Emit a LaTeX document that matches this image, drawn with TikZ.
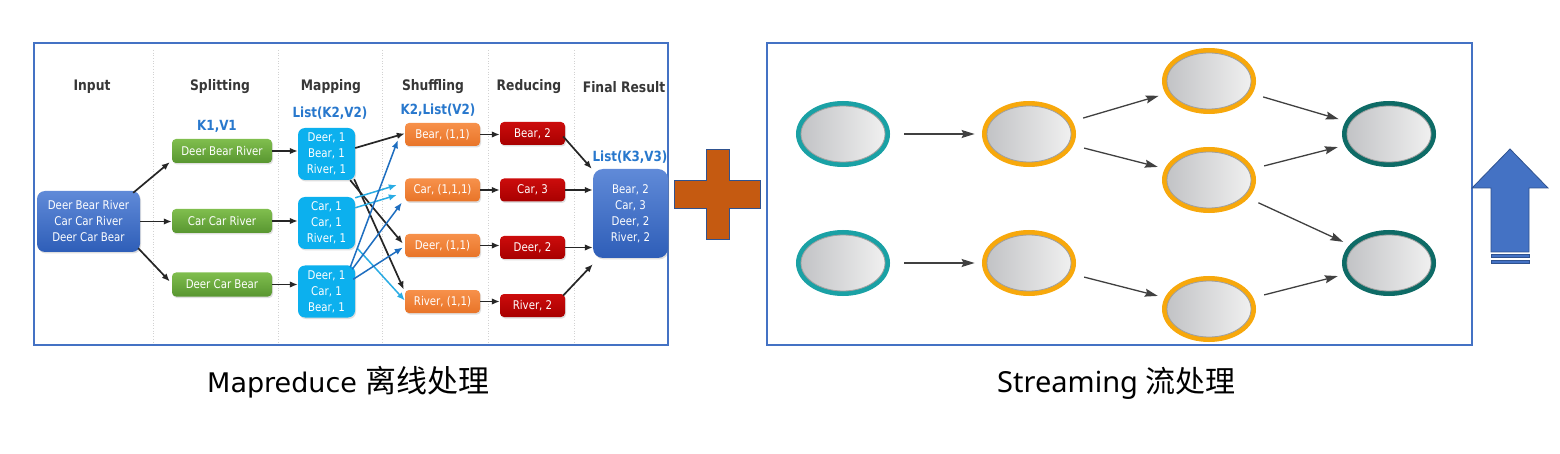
\documentclass[tikz,border=0pt]{standalone}
\usepackage{fontspec}
\setmainfont{Liberation Sans}
\newfontfamily\cjk{Noto Sans CJK SC}
\newfontfamily\dejavu{DejaVu Sans}
\newfontfamily\verd[FakeStretch=0.85]{DejaVu Sans}
\newfontfamily\notosans{Noto Sans}
\usetikzlibrary{shapes.geometric,arrows.meta,calc,shadows}
\definecolor{panelblue}{RGB}{68,114,196}
\definecolor{darkedge}{RGB}{47,82,143}
\definecolor{plusor}{RGB}{197,90,17}
\definecolor{hdrgray}{RGB}{55,55,55}
\definecolor{lblblue}{RGB}{40,120,205}
\definecolor{grtop}{RGB}{128,190,78}
\definecolor{grbot}{RGB}{88,150,48}
\definecolor{cyanb}{RGB}{12,176,238}
\definecolor{ortop}{RGB}{247,145,75}
\definecolor{orbot}{RGB}{232,116,40}
\definecolor{rdtop}{RGB}{204,12,12}
\definecolor{rdbot}{RGB}{168,0,0}
\definecolor{bltop}{RGB}{96,138,216}
\definecolor{blbot}{RGB}{46,94,184}
\definecolor{lbarr}{RGB}{41,172,228}
\definecolor{bdarr}{RGB}{30,110,192}
\definecolor{tealc}{RGB}{26,161,165}
\definecolor{orangec}{RGB}{247,168,12}
\definecolor{dtealc}{RGB}{14,107,102}
\definecolor{ellL}{RGB}{194,195,198}
\definecolor{ellR}{RGB}{240,240,240}
\definecolor{sarrc}{RGB}{64,64,64}
\begin{document}
\begin{tikzpicture}[x=1pt,y=-1pt,
  mrbox/.style={rounded corners=4pt, text=white, font=\verd\fontsize{12}{16}\selectfont, align=center, inner sep=0pt,
    drop shadow={opacity=0.25,shadow xshift=1pt,shadow yshift=-1.5pt}},
  gbox/.style={mrbox, top color=grtop, bottom color=grbot, minimum width=100, minimum height=24},
  inbox/.style={mrbox, rounded corners=8pt, top color=bltop, bottom color=blbot, minimum width=103, minimum height=61},
  cbox/.style={mrbox, rounded corners=7pt, fill=cyanb, minimum width=57, minimum height=52},
  obox/.style={mrbox, top color=ortop, bottom color=orbot, minimum width=75, minimum height=23},
  rbox/.style={mrbox, top color=rdtop, bottom color=rdbot, minimum width=65, minimum height=23},
  fbox/.style={mrbox, rounded corners=10pt, top color=bltop, bottom color=blbot, minimum width=75, minimum height=89},
  hdrtxt/.style={font=\verd\bfseries\fontsize{14.5}{16}\selectfont, text=hdrgray, inner sep=0pt},
  lbltxt/.style={font=\verd\bfseries\fontsize{14}{16}\selectfont, text=lblblue, inner sep=0pt},
  karr/.style={-{Latex[length=8pt,width=6.5pt]}, line width=1.7pt, draw=black!85},
  larr/.style={-{Latex[length=8pt,width=6.5pt]}, line width=1.5pt, draw=lbarr},
  barr/.style={-{Latex[length=8pt,width=6.5pt]}, line width=1.5pt, draw=bdarr},
  sepline/.style={draw=gray!35, dotted, line width=0.7pt},
  ellnode/.style={ellipse, minimum width=84, minimum height=56, inner sep=0pt, line width=0.8pt,
    left color=ellL, right color=ellR, draw=gray!75, preaction={draw=#1, line width=10pt}},
  sarr/.style={-{Stealth[length=13pt,width=8pt,inset=2pt]}, line width=1.3pt, draw=sarrc, shorten <=16pt, shorten >=12pt},
  captxt/.style={inner sep=0pt, anchor=base west}
]
\useasboundingbox[fill=white] (0,0) rectangle (1560,454);

% ---------- left panel ----------
\draw[panelblue, line width=1.2pt] (34,43) rectangle (668,345);
\foreach \xx in {153,278,382,488,574} \draw[sepline] (\xx,50) -- (\xx,344);

\node[hdrtxt] (hin) at (92,87) {Input};
\node[hdrtxt] (hsp) at (220,87) {Splitting};
\node[hdrtxt] (hma) at (331,87) {Mapping};
\node[hdrtxt] (hsh) at (433,87) {Shuffling};
\node[hdrtxt] (hre) at (529,87) {Reducing};
\node[hdrtxt] (hfi) at (624,87) {Final Result};

\node[lbltxt] (l1) at (217,126) {K1,V1};
\node[lbltxt] (l2) at (330,113) {List(K2,V2)};
\node[lbltxt] (l3) at (438,110) {K2,List(V2)};
\node[lbltxt] (l4) at (630,157) {List(K3,V3)};

\node[inbox] (in) at (88.5,221.5) {Deer Bear River\\Car Car River\\Deer Car Bear};
\node[gbox] (s1) at (222,151) {Deer Bear River};
\node[gbox] (s2) at (222,221) {Car Car River};
\node[gbox] (s3) at (222,284.5) {Deer Car Bear};
\node[cbox] (m1) at (326.5,154) {Deer, 1\\Bear, 1\\River, 1};
\node[cbox] (m2) at (326.5,223) {Car, 1\\Car, 1\\River, 1};
\node[cbox] (m3) at (326.5,291.5) {Deer, 1\\Car, 1\\Bear, 1};
\node[obox] (h1) at (442.5,134.5) {Bear, (1,1)};
\node[obox] (h2) at (442.5,190) {Car, (1,1,1)};
\node[obox] (h3) at (442.5,245.5) {Deer, (1,1)};
\node[obox] (h4) at (442.5,301.5) {River, (1,1)};
\node[rbox] (r1) at (532.5,133.5) {Bear, 2};
\node[rbox] (r2) at (532.5,190) {Car, 3};
\node[rbox] (r3) at (532.5,247.5) {Deer, 2};
\node[rbox] (r4) at (532.5,305.5) {River, 2};
\node[fbox] (fin) at (630.5,213.5) {Bear, 2\\Car, 3\\Deer, 2\\River, 2};

\draw[karr] ($(in.north east)+(-7,2)$) -- ($(s1.south west)+(-2,-1)$);
\draw[karr] (in.east) -- (in.east -| s2.west);
\draw[karr] ($(in.south east)+(-2,-4)$) -- ($(s3.west)+(-2,-3)$);
\draw[karr] (s1.east) -- (s1.east -| m1.west);
\draw[karr] (s2.east) -- (s2.east -| m2.west);
\draw[karr] (s3.east) -- (s3.east -| m3.west);

\draw[karr] ($(m1.east)+(0,-6)$) -- ($(h1.west)+(0,-1)$);
\draw[karr] ($(m1.south east)+(-5,0)$) -- ($(h3.west)+(-2,-2)$);
\draw[karr] ($(m1.south east)+(-1,-1)$) -- ($(h4.west)+(-1,-12)$);
\draw[larr] ($(m2.north east)+(0,1)$) -- ($(h2.west)+(-8,-5)$);
\draw[larr] ($(m2.north east)+(0,11)$) -- ($(h2.west)+(-8,5)$);
\draw[larr] ($(m2.south east)+(2,-1)$) -- ($(h4.west)+(0,-1)$);
\draw[barr] ($(m3.north east)+(-5,2)$) -- ($(h1.south west)+(-7,-6)$);
\draw[barr] ($(m3.north east)+(-3,4)$) -- ($(h2.south west)+(-3,1)$);
\draw[barr] ($(m3.north east)+(-2,14)$) -- ($(h3.west)+(-2,2)$);

\draw[karr] (h1.east) -- (h1.east -| r1.west);
\draw[karr] (h2.east) -- (h2.east -| r2.west);
\draw[karr] (h3.east) -- (h3.east -| r3.west);
\draw[karr] (h4.east) -- (h4.east -| r4.west);

\draw[karr] ($(r1.east)+(-2,3)$) -- ($(fin.north west)+(-1,0)$);
\draw[karr] (r2.east) -- (r2.east -| fin.west);
\draw[karr] (r3.east) -- (r3.east -| fin.west);
\draw[karr] ($(r4.east)+(-2,-10)$) -- ($(fin.south west)+(0,6)$);

% ---------- plus sign ----------
\draw[fill=plusor, draw=darkedge, line width=1pt] (706,150) -- (729,150) -- (729,181) -- (760,181) -- (760,209) -- (729,209) -- (729,240) -- (706,240) -- (706,209) -- (674,209) -- (674,181) -- (706,181) -- cycle;

% ---------- right panel ----------
\draw[panelblue, line width=1.2pt] (767,43) rectangle (1472,345);

\node[ellnode=tealc] (a1) at (843,134) {};
\node[ellnode=tealc] (a2) at (843,263) {};
\node[ellnode=orangec] (b1) at (1029,134) {};
\node[ellnode=orangec] (b2) at (1029,263) {};
\node[ellnode=orangec] (c1) at (1209,81) {};
\node[ellnode=orangec] (c2) at (1209,180) {};
\node[ellnode=orangec] (c3) at (1209,309) {};
\node[ellnode=dtealc] (d1) at (1389,134) {};
\node[ellnode=dtealc] (d2) at (1389,263) {};

\draw[sarr, shorten <=19pt] (a1) -- (b1);
\draw[sarr, shorten <=19pt] (a2) -- (b2);
\draw[sarr] (b1) -- (c1);
\draw[sarr] (b1) -- (c2);
\draw[sarr] (b2) -- (c3);
\draw[sarr] (c1) -- (d1);
\draw[sarr] (c2) -- (d1);
\draw[sarr] (c2) -- (d2);
\draw[sarr] (c3) -- (d2);

% ---------- up arrow ----------
\draw[fill=panelblue, draw=darkedge, line width=0.8pt] (1510,149) -- (1548,188) -- (1529,188) -- (1529,252) -- (1491,252) -- (1491,188) -- (1472,188) -- cycle;
\draw[fill=panelblue, draw=darkedge, line width=0.6pt] (1491,254.5) rectangle (1529,257.5);
\draw[fill=panelblue, draw=darkedge, line width=0.6pt] (1491,260) rectangle (1529,263.5);

% ---------- captions ----------
\node[captxt] (capL) at (207,392) {\fontsize{27}{30}\selectfont\dejavu Mapreduce {\fontsize{31}{32}\selectfont\cjk 离线处理}};
\node[captxt] (capR) at (997,392) {\fontsize{29}{32}\selectfont\notosans Streaming {\fontsize{30}{32}\selectfont\cjk 流处理}};
\end{tikzpicture}
\end{document}
